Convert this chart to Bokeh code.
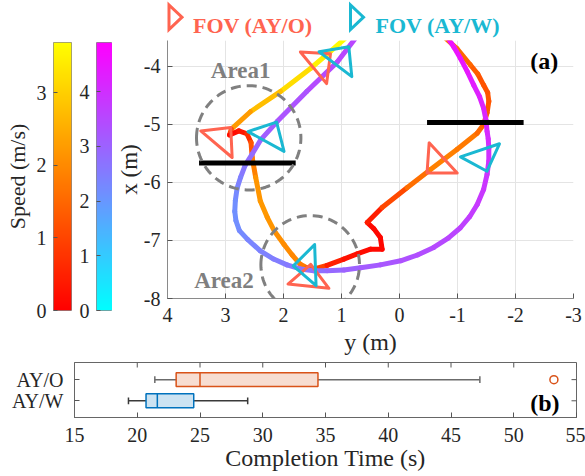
import numpy as np
from bokeh.plotting import figure
from bokeh.layouts import column, row
from bokeh.models import (Range1d, ColumnDataSource, LinearColorMapper, Label,
                          PolyAnnotation, FixedTicker)
from bokeh.embed import file_html
from bokeh.resources import INLINE
from bokeh.core.properties import value

# ---------------- data ----------------
# AY/O trajectory: y (m), x (m), speed (m/s)
ayo_y = [0.92, 1.19, 1.53, 2.05, 2.57, 2.90, 2.93, 2.77, 2.63, 2.56, 2.54, 2.48, 2.40, 2.28,
         2.15, 1.99, 1.85, 1.71, 1.60, 1.50, 1.25, 0.96, 0.73, 0.50, 0.30, 0.33, 0.44, 0.557,
         0.30, -0.13, -0.53, -0.99, -1.34, -1.45, -1.51, -1.54, -1.52, -1.45, -1.35, -1.22,
         -0.99, -0.78]
ayo_x = [-3.50, -3.74, -4.03, -4.43, -4.78, -5.08, -5.18, -5.11, -5.16, -5.31, -5.57, -5.91,
         -6.32, -6.60, -6.85, -7.07, -7.25, -7.41, -7.47, -7.50, -7.43, -7.32, -7.23, -7.15,
         -7.15, -6.95, -6.80, -6.69, -6.43, -6.09, -5.78, -5.43, -5.15, -5.00, -4.80, -4.60,
         -4.45, -4.32, -4.13, -3.97, -3.69, -3.50]
ayo_speed = [3.69, 3.6, 3.4, 3.0, 2.5, 2.0, 0.1, 0.2, 0.4, 0.9, 1.6, 2.1, 2.2, 2.2,
             2.1, 2.05, 2.0, 1.9, 1.6, 1.3, 0.6, 0.3, 0.2, 0.15, 0.1, 0.1, 0.1, 0.15,
             0.7, 1.4, 1.8, 1.9, 1.6, 1.4, 1.3, 1.25, 1.2, 1.15, 1.25, 1.4, 1.6, 1.7]

# AY/W trajectory: y (m), x (m), colour value
ayw_y = [0.75, 1.07, 1.60, 2.11, 2.39, 2.54, 2.66, 2.74, 2.80, 2.83, 2.84, 2.82, 2.76, 2.62,
         2.40, 2.17, 1.94, 1.71, 1.48, 1.25, 0.96, 0.67, 0.33, -0.02, -0.31, -0.59, -0.84,
         -1.05, -1.21, -1.34, -1.45, -1.51, -1.54, -1.54, -1.53, -1.51, -1.49, -1.45, -1.38,
         -1.28, -1.17, -1.05, -0.94, -0.83]
ayw_x = [-3.50, -3.92, -4.43, -4.95, -5.26, -5.51, -5.70, -5.91, -6.10, -6.31, -6.50, -6.66,
         -6.83, -6.98, -7.18, -7.32, -7.42, -7.49, -7.52, -7.52, -7.51, -7.47, -7.42, -7.35,
         -7.25, -7.12, -6.96, -6.78, -6.59, -6.38, -6.12, -5.86, -5.63, -5.41, -5.25, -5.12,
         -4.92, -4.72, -4.52, -4.32, -4.09, -3.86, -3.67, -3.50]
ayw_val = [3.6, 3.5, 3.4, 3.2, 3.0, 2.9, 2.7, 2.5, 2.35, 2.2, 2.15, 2.15, 2.2, 2.3,
           2.4, 2.45, 2.55, 2.6, 2.7, 2.8, 2.95, 3.1, 3.2, 3.3, 3.4, 3.45, 3.55,
           3.6, 3.7, 3.8, 3.85, 3.9, 3.95, 4.0, 4.05, 4.1, 4.15, 4.2, 4.25,
           4.3, 4.4, 4.5, 4.55, 4.6]

# FOV snapshots: apex y, apex x, heading (deg)
fov_o_y = [1.19, 2.91, 1.53, -0.475]
fov_o_x = [-3.78, -5.05, -7.41, -5.835]
fov_o_head = [-39.6, -49.7, -84.0, 137.0]
fov_w_y = [0.874, 2.119, 1.831, -1.508]
fov_w_x = [-3.658, -4.959, -7.438, -5.806]
fov_w_head = [-52.7, -61.3, 178.0, 71.5]

# gates
gate_y0 = [3.456, -0.475]
gate_y1 = [1.79, -2.14]
gate_x = [-5.663, -4.964]

# areas
area_names = ["Area1", "Area2"]
area_cy = [2.6, 1.54]
area_cx = [-5.23, -7.42]
area_r = [0.9, 0.85]
area_label_y = [3.253, 3.54]
area_label_x = [-4.074, -7.695]

speed_max = 3.69
wval_max = 4.9
speed_ticks = [0, 1, 2, 3]
wval_ticks = [0, 1, 2, 3, 4]

legend_names = ["FOV (AY/O)", "FOV (AY/W)"]

# box plot statistics (completion time, s)
groups = ["AY/W", "AY/O"]
group_pos = [1, 2]
w_lo = [19.3, 21.4]
q1 = [20.7, 23.1]
med = [21.6, 25.0]
q3 = [24.5, 34.4]
w_hi = [28.8, 47.3]
outlier_t = [53.2]
outlier_pos = [2]

# ---------------- styles ----------------
FONT = "Liberation Serif"
C_O = "#FF6450"
C_W = "#1AB8D2"
TXT = "#262626"
TICK_FS = "20px"
LAB_FS = "24px"


def autumn(t):
    t = min(max(t, 0.0), 1.0)
    return "#%02x%02x%02x" % (255, int(round(255 * t)), 0)


def cool(t):
    t = min(max(t, 0.0), 1.0)
    return "#%02x%02x%02x" % (int(round(255 * t)), int(round(255 * (1 - t))), 255)


autumn_pal = [autumn(t) for t in np.linspace(0, 1, 256)]
cool_pal = [cool(t) for t in np.linspace(0, 1, 256)]

TOP_H = 320

# ---------------- legend strip ----------------
lg = figure(width=585, height=40, x_range=Range1d(0, 585), y_range=Range1d(40, 0),
            min_border=0, output_backend="svg", toolbar_location=None)
lg.axis.visible = False
lg.grid.visible = False
lg.outline_line_color = None
lg.patches(xs=[[168.5, 168.5, 181.5], [350.0, 350.0, 363.0]],
           ys=[[4.5, 29.0, 16.7], [4.5, 29.0, 16.7]],
           fill_color=None, line_color=[C_O, C_W], line_width=3, line_join="miter")
lg.text(x=[192.5, 375.0], y=[24.5, 24.5], text=legend_names,
        text_font=value(FONT), text_font_style="bold", text_font_size="22px",
        text_color=[C_O, C_W], text_baseline="alphabetic", text_align="left")


# ---------------- colorbars ----------------
def make_cb(width, mb_left, mb_right, vmax, pal, ticks, label):
    f = figure(width=width, height=TOP_H, x_range=Range1d(0, 1), y_range=Range1d(0, vmax),
               min_border_left=mb_left, min_border_right=mb_right, min_border_top=2,
               min_border_bottom=TOP_H - 2 - 268, output_backend="svg", toolbar_location=None)
    f.image(image=[np.linspace(0, vmax, 256).reshape(256, 1)], x=0, y=0, dw=1, dh=vmax,
            color_mapper=LinearColorMapper(palette=pal, low=0, high=vmax))
    f.xaxis.visible = False
    f.grid.visible = False
    f.outline_line_color = "#8a8a8a"
    ax = f.yaxis[0]
    ax.ticker = FixedTicker(ticks=ticks)
    ax.axis_line_color = None
    ax.major_tick_in = 4
    ax.major_tick_out = 0
    ax.major_tick_line_color = "#555555"
    ax.minor_tick_line_color = None
    ax.major_label_text_font = FONT
    ax.major_label_text_font_size = TICK_FS
    ax.major_label_text_color = TXT
    ax.major_label_standoff = 7
    if label:
        ax.axis_label = label
        ax.axis_label_text_font = FONT
        ax.axis_label_text_font_style = "normal"
        ax.axis_label_text_font_size = "22px"
        ax.axis_label_text_color = TXT
        ax.axis_label_standoff = 4
    return f


cb1 = make_cb(76, 53, 5, speed_max, autumn_pal, speed_ticks, "Speed (m/s)")
cb2 = make_cb(36, 18, 0, wval_max, cool_pal, wval_ticks, None)

# ---------------- main trajectory plot ----------------
p = figure(width=473, height=TOP_H, x_range=Range1d(4, -3), y_range=Range1d(-8, -3.552),
           min_border_left=55, min_border_right=12, min_border_top=0,
           min_border_bottom=TOP_H - 258, output_backend="svg", toolbar_location=None)
p.outline_line_color = None
p.grid.grid_line_color = "#E4E4E4"
p.grid.grid_line_width = 1
xt = [4, 3, 2, 1, 0, -1, -2, -3]
yt = [-8, -7, -6, -5, -4]
p.xaxis.ticker = FixedTicker(ticks=xt)
p.yaxis.ticker = FixedTicker(ticks=yt)
p.xaxis.major_label_overrides = {t: str(t) for t in xt}
p.yaxis.major_label_overrides = {t: str(t) for t in yt}
p.xaxis.axis_label = "y (m)"
p.yaxis.axis_label = "x (m)"
for ax in (p.xaxis[0], p.yaxis[0]):
    ax.axis_line_color = "#8a8a8a"
    ax.major_tick_line_color = "#555555"
    ax.major_tick_in = 5
    ax.major_tick_out = 0
    ax.minor_tick_line_color = None
    ax.major_label_text_font = FONT
    ax.major_label_text_font_size = TICK_FS
    ax.major_label_text_color = TXT
    ax.axis_label_text_font = FONT
    ax.axis_label_text_font_style = "normal"
    ax.axis_label_text_font_size = LAB_FS
    ax.axis_label_text_color = TXT
p.xaxis.major_label_standoff = 9
p.xaxis.axis_label_standoff = 4
p.yaxis.major_label_standoff = 7
p.yaxis.axis_label_standoff = -1
p.yaxis.axis_label_text_font_size = "23px"


def seg_source(ys, xs, vals, vmax, cmap):
    sx, sy, cols = [], [], []
    for i in range(len(ys) - 1):
        sx.append([ys[i], ys[i + 1]])
        sy.append([xs[i], xs[i + 1]])
        cols.append(cmap(0.5 * (vals[i] + vals[i + 1]) / vmax))
    return ColumnDataSource(dict(xs=sx, ys=sy, color=cols))


p.multi_line(xs="xs", ys="ys", line_color="color", line_width=5, line_cap="round",
             line_join="round", source=seg_source(ayo_y, ayo_x, ayo_speed, speed_max, autumn))
p.multi_line(xs="xs", ys="ys", line_color="color", line_width=5, line_cap="round",
             line_join="round", source=seg_source(ayw_y, ayw_x, ayw_val, wval_max, cool))

FOV_R = 0.52
FOV_HALF = np.radians(43)


def fov_tris(ay, ax_, head):
    txs, tys = [], []
    for a, b, h in zip(ay, ax_, head):
        th = np.radians(h)
        txs.append([a, a + FOV_R * np.cos(th + FOV_HALF), a + FOV_R * np.cos(th - FOV_HALF)])
        tys.append([b, b + FOV_R * np.sin(th + FOV_HALF), b + FOV_R * np.sin(th - FOV_HALF)])
    return txs, tys


oxs, oys = fov_tris(fov_o_y, fov_o_x, fov_o_head)
wxs, wys = fov_tris(fov_w_y, fov_w_x, fov_w_head)

p.segment(x0=gate_y0, y0=gate_x, x1=gate_y1, y1=gate_x, line_color="black", line_width=5)

p.patches(xs=oxs, ys=oys, fill_color=None, line_color=C_O, line_width=3, line_join="round")
p.patches(xs=wxs, ys=wys, fill_color=None, line_color=C_W, line_width=3, line_join="round")

th = np.linspace(0, 2 * np.pi, 120)
for cy, cx, r, nm, ly, lx in zip(area_cy, area_cx, area_r, area_names, area_label_y, area_label_x):
    p.add_layout(PolyAnnotation(xs=list(cy + r * np.cos(th)), ys=list(cx + r * np.sin(th)),
                                fill_alpha=0, line_color="#808080", line_alpha=1.0,
                                line_width=3, line_dash="10 6"))
    p.add_layout(Label(x=ly, y=lx, text=nm, text_align="left", text_baseline="middle",
                       text_font=FONT, text_font_style="bold", text_font_size="23px",
                       text_color="#7F7F7F"))

p.add_layout(Label(x=-2.735, y=-3.90, text="(a)", text_align="right", text_baseline="middle",
                   text_font=FONT, text_font_style="bold", text_font_size="24px",
                   text_color="black"))

# ---------------- box plot ----------------
BX_TOP = 2.81
BX_H = 476 - 40 - TOP_H
bx = figure(width=585, height=BX_H, x_range=Range1d(15, 55), y_range=Range1d(0.21, BX_TOP),
            min_border_left=74, min_border_right=9, min_border_top=2,
            min_border_bottom=BX_H - 2 - 55, output_backend="svg", toolbar_location=None)
bx.grid.visible = False
bx.outline_line_color = "#666666"
box_cols = ["#0072BD", "#D95319"]
wh_cols = ["#3a3a3a", "#6b6b6b"]
bh = 0.33
cap = 0.16
bx.segment(x0=w_lo, y0=group_pos, x1=q1, y1=group_pos, line_color=wh_cols, line_width=1.5)
bx.segment(x0=q3, y0=group_pos, x1=w_hi, y1=group_pos, line_color=wh_cols, line_width=1.5)
bx.segment(x0=w_lo, y0=[g - cap for g in group_pos], x1=w_lo, y1=[g + cap for g in group_pos],
           line_color=wh_cols, line_width=1.5)
bx.segment(x0=w_hi, y0=[g - cap for g in group_pos], x1=w_hi, y1=[g + cap for g in group_pos],
           line_color=wh_cols, line_width=1.5)
bx.quad(left=q1, right=q3, bottom=[g - bh for g in group_pos], top=[g + bh for g in group_pos],
        fill_color=box_cols, fill_alpha=0.2, line_color=box_cols, line_width=1.5)
bx.segment(x0=med, y0=[g - bh for g in group_pos], x1=med, y1=[g + bh for g in group_pos],
           line_color=box_cols, line_width=1.5)
bx.scatter(outlier_t, outlier_pos, marker="circle", size=8, fill_color=None,
           line_color="#D95319", line_width=1.5)

bt = list(range(15, 56, 5))
bx.xaxis.ticker = FixedTicker(ticks=bt)
bx.yaxis.ticker = FixedTicker(ticks=group_pos)
bx.yaxis.major_label_overrides = {g: n for g, n in zip(group_pos, groups)}
bx.xaxis.axis_label = "Completion Time (s)"
for ax in (bx.xaxis[0], bx.yaxis[0]):
    ax.axis_line_color = "#666666"
    ax.major_tick_line_color = "#555555"
    ax.major_tick_in = 5
    ax.major_tick_out = 0
    ax.minor_tick_line_color = None
    ax.major_label_text_font = FONT
    ax.major_label_text_font_size = TICK_FS
    ax.major_label_text_color = TXT
    ax.axis_label_text_font = FONT
    ax.axis_label_text_font_style = "normal"
    ax.axis_label_text_font_size = LAB_FS
    ax.axis_label_text_color = TXT
bx.xaxis.major_label_standoff = 10
bx.xaxis.axis_label_standoff = 0
bx.yaxis.major_label_standoff = 11

# mirrored inward ticks on the top and right edges of the box
tick_dy = 5 / 21.15
tick_dx = 5 / 12.55
bx.segment(x0=bt, y0=[BX_TOP] * len(bt), x1=bt, y1=[BX_TOP - tick_dy] * len(bt),
           line_color="#555555", line_width=1)
bx.segment(x0=[55] * 2, y0=group_pos, x1=[55 - tick_dx] * 2, y1=group_pos,
           line_color="#555555", line_width=1)

bx.add_layout(Label(x=53.65, y=0.895, text="(b)", text_align="right", text_baseline="middle",
                    text_font=FONT, text_font_style="bold", text_font_size="24px",
                    text_color="black"))

layout = column(row(lg), row(column(cb1), column(cb2), column(p)), row(bx))
open("out.html", "w").write(file_html(layout, INLINE))
